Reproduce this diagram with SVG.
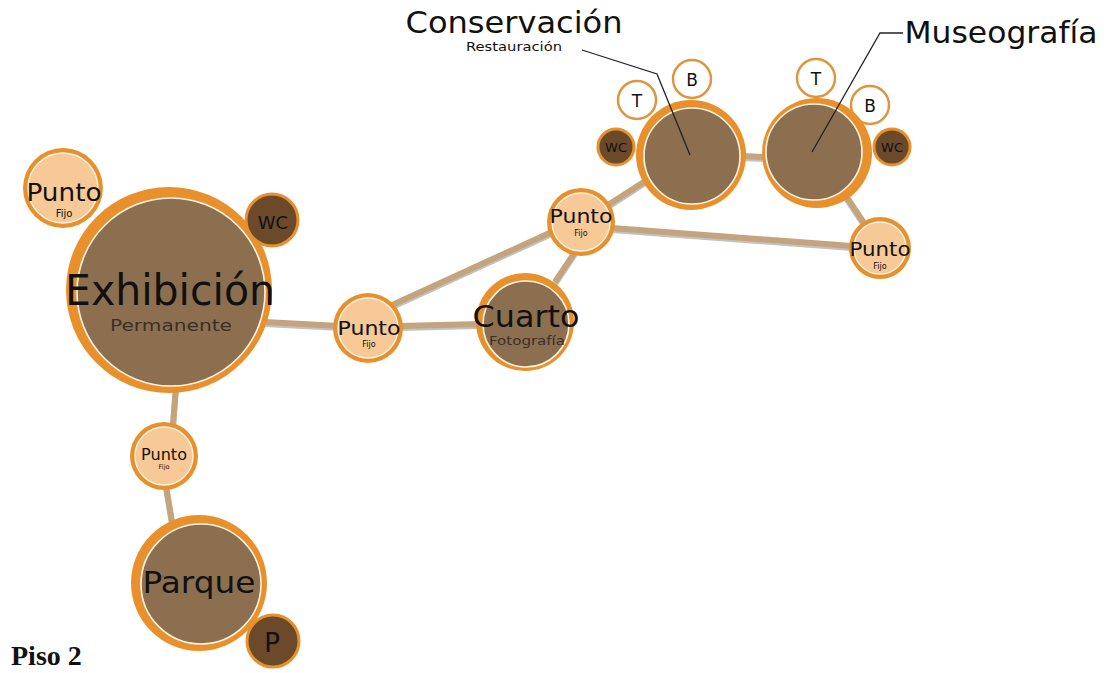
<svg xmlns="http://www.w3.org/2000/svg" width="1107" height="673" viewBox="0 0 1107 673">
<style>
.big-o{fill:#E8912C}
.big-i{fill:#8C6F4F;stroke:#FBF3E8;stroke-width:1.6}
.pt-o{fill:#E8912C}
.pt-i{fill:#F6C996;stroke:#FBF3E8;stroke-width:1.4}
.wc{fill:#6B4A2B;stroke:#E8912C;stroke-width:3}
.tb{fill:#FFFFFF;stroke:#DE953F;stroke-width:2.5}
.conn{stroke:#C4A47C;stroke-width:6;fill:none;stroke-linecap:butt}
.shadow{stroke:#9A9A9A;stroke-width:6;fill:none;opacity:0.6}
.lead{stroke:#222;stroke-width:1.3;fill:none}
text{font-family:"DejaVu Sans","Liberation Sans",sans-serif;fill:#111;text-anchor:middle}
.sub{fill:#3a3026}
</style>
<g id="connectors">
<g transform="translate(0,2)" class="shadow">
<line x1="265" y1="322" x2="340" y2="326"/>
<line x1="400" y1="326" x2="480" y2="324"/>
<line x1="390" y1="306" x2="556" y2="230"/>
<line x1="555" y1="282" x2="575" y2="252"/>
<line x1="608" y1="205" x2="650" y2="178"/>
<line x1="612" y1="228" x2="852" y2="246"/>
<line x1="742" y1="156" x2="766" y2="157"/>
<line x1="846" y1="196" x2="866" y2="226"/>
<line x1="176" y1="386" x2="173" y2="425"/>
<line x1="166" y1="486" x2="172" y2="522"/>
</g>
<line class="conn" x1="265" y1="322" x2="340" y2="326"/>
<line class="conn" x1="400" y1="326" x2="480" y2="324"/>
<line class="conn" x1="390" y1="306" x2="556" y2="230"/>
<line class="conn" x1="555" y1="282" x2="575" y2="252"/>
<line class="conn" x1="608" y1="205" x2="650" y2="178"/>
<line class="conn" x1="612" y1="228" x2="852" y2="246"/>
<line class="conn" x1="742" y1="156" x2="766" y2="157"/>
<line class="conn" x1="846" y1="196" x2="866" y2="226"/>
<line class="conn" x1="176" y1="386" x2="173" y2="425"/>
<line class="conn" x1="166" y1="486" x2="172" y2="522"/>
</g>
<g id="punto-tl">
<circle class="pt-o" cx="63" cy="188" r="40"/>
<circle class="pt-i" cx="63" cy="188" r="35"/>
<text x="64" y="201" font-size="24" textLength="75" lengthAdjust="spacingAndGlyphs">Punto</text>
<text x="64" y="217" font-size="10">Fijo</text>
</g>
<g id="exhibicion">
<circle class="big-o" cx="169" cy="290" r="103"/>
<circle class="big-i" cx="171" cy="292" r="94"/>
<text x="170" y="305" font-size="42" textLength="210" lengthAdjust="spacingAndGlyphs">Exhibición</text>
<text class="sub" x="171" y="331" font-size="16" textLength="122" lengthAdjust="spacingAndGlyphs">Permanente</text>
</g>
<g id="wc-exh">
<circle class="wc" cx="272" cy="220" r="26"/>
<text x="273" y="229" font-size="18">WC</text>
</g>
<g id="punto-mid">
<circle class="pt-o" cx="368" cy="328" r="35"/>
<circle class="pt-i" cx="368" cy="328" r="30"/>
<text x="369" y="335" font-size="20" textLength="63" lengthAdjust="spacingAndGlyphs">Punto</text>
<text x="369" y="347" font-size="8">Fijo</text>
</g>
<g id="cuarto">
<circle class="big-o" cx="525" cy="322" r="49"/>
<circle class="big-i" cx="526" cy="324" r="43"/>
<text x="526" y="327" font-size="30" textLength="107" lengthAdjust="spacingAndGlyphs">Cuarto</text>
<text class="sub" x="527" y="345" font-size="13" textLength="76" lengthAdjust="spacingAndGlyphs">Fotografía</text>
</g>
<g id="punto-up">
<circle class="pt-o" cx="581" cy="222" r="34"/>
<circle class="pt-i" cx="581" cy="222" r="29"/>
<text x="581" y="223" font-size="20" textLength="63" lengthAdjust="spacingAndGlyphs">Punto</text>
<text x="581" y="236" font-size="8">Fijo</text>
</g>
<g id="conservacion">
<circle class="tb" cx="637" cy="100" r="19"/>
<text x="637" y="107" font-size="17">T</text>
<circle class="tb" cx="692" cy="79" r="19"/>
<text x="692" y="86" font-size="17">B</text>
<circle class="wc" cx="616" cy="147" r="18"/>
<text x="616" y="152" font-size="13">WC</text>
<circle class="big-o" cx="691" cy="155" r="55"/>
<circle class="big-i" cx="692" cy="156" r="48"/>
<text x="514" y="33" font-size="30" textLength="217" lengthAdjust="spacingAndGlyphs">Conservación</text>
<text x="514" y="51" font-size="12.5" textLength="96" lengthAdjust="spacingAndGlyphs">Restauración</text>
<polyline class="lead" points="582,50 657,74 690,155"/>
</g>
<g id="museografia">
<circle class="tb" cx="816" cy="78" r="19"/>
<text x="816" y="85" font-size="17">T</text>
<circle class="tb" cx="870" cy="105" r="19"/>
<text x="870" y="112" font-size="17">B</text>
<circle class="wc" cx="892" cy="147" r="18"/>
<text x="892" y="152" font-size="13">WC</text>
<circle class="big-o" cx="817" cy="153" r="55"/>
<circle class="big-i" cx="814" cy="152" r="48"/>
<text x="1001" y="43" font-size="30" textLength="193" lengthAdjust="spacingAndGlyphs">Museografía</text>
<polyline class="lead" points="903,33 880,33 812,152"/>
</g>
<g id="punto-right">
<circle class="pt-o" cx="880" cy="248" r="31"/>
<circle class="pt-i" cx="880" cy="248" r="26"/>
<text x="880" y="256" font-size="20" textLength="61" lengthAdjust="spacingAndGlyphs">Punto</text>
<text x="880" y="269" font-size="8">Fijo</text>
</g>
<g id="punto-low">
<circle class="pt-o" cx="164" cy="456" r="34"/>
<circle class="pt-i" cx="164" cy="456" r="29"/>
<text x="164" y="460" font-size="15" textLength="46" lengthAdjust="spacingAndGlyphs">Punto</text>
<text x="164" y="469" font-size="6.5">Fijo</text>
</g>
<g id="parque">
<circle class="big-o" cx="199" cy="583" r="68"/>
<circle class="big-i" cx="201" cy="584" r="60"/>
<text x="199" y="593" font-size="31" textLength="113" lengthAdjust="spacingAndGlyphs">Parque</text>
</g>
<g id="p">
<circle class="wc" cx="273" cy="641" r="26"/>
<text x="272" y="652" font-size="26">P</text>
</g>
<text x="11" y="665" style="text-anchor:start;font-family:'Liberation Serif',serif;font-weight:bold;font-size:28px">Piso 2</text>
</svg>
